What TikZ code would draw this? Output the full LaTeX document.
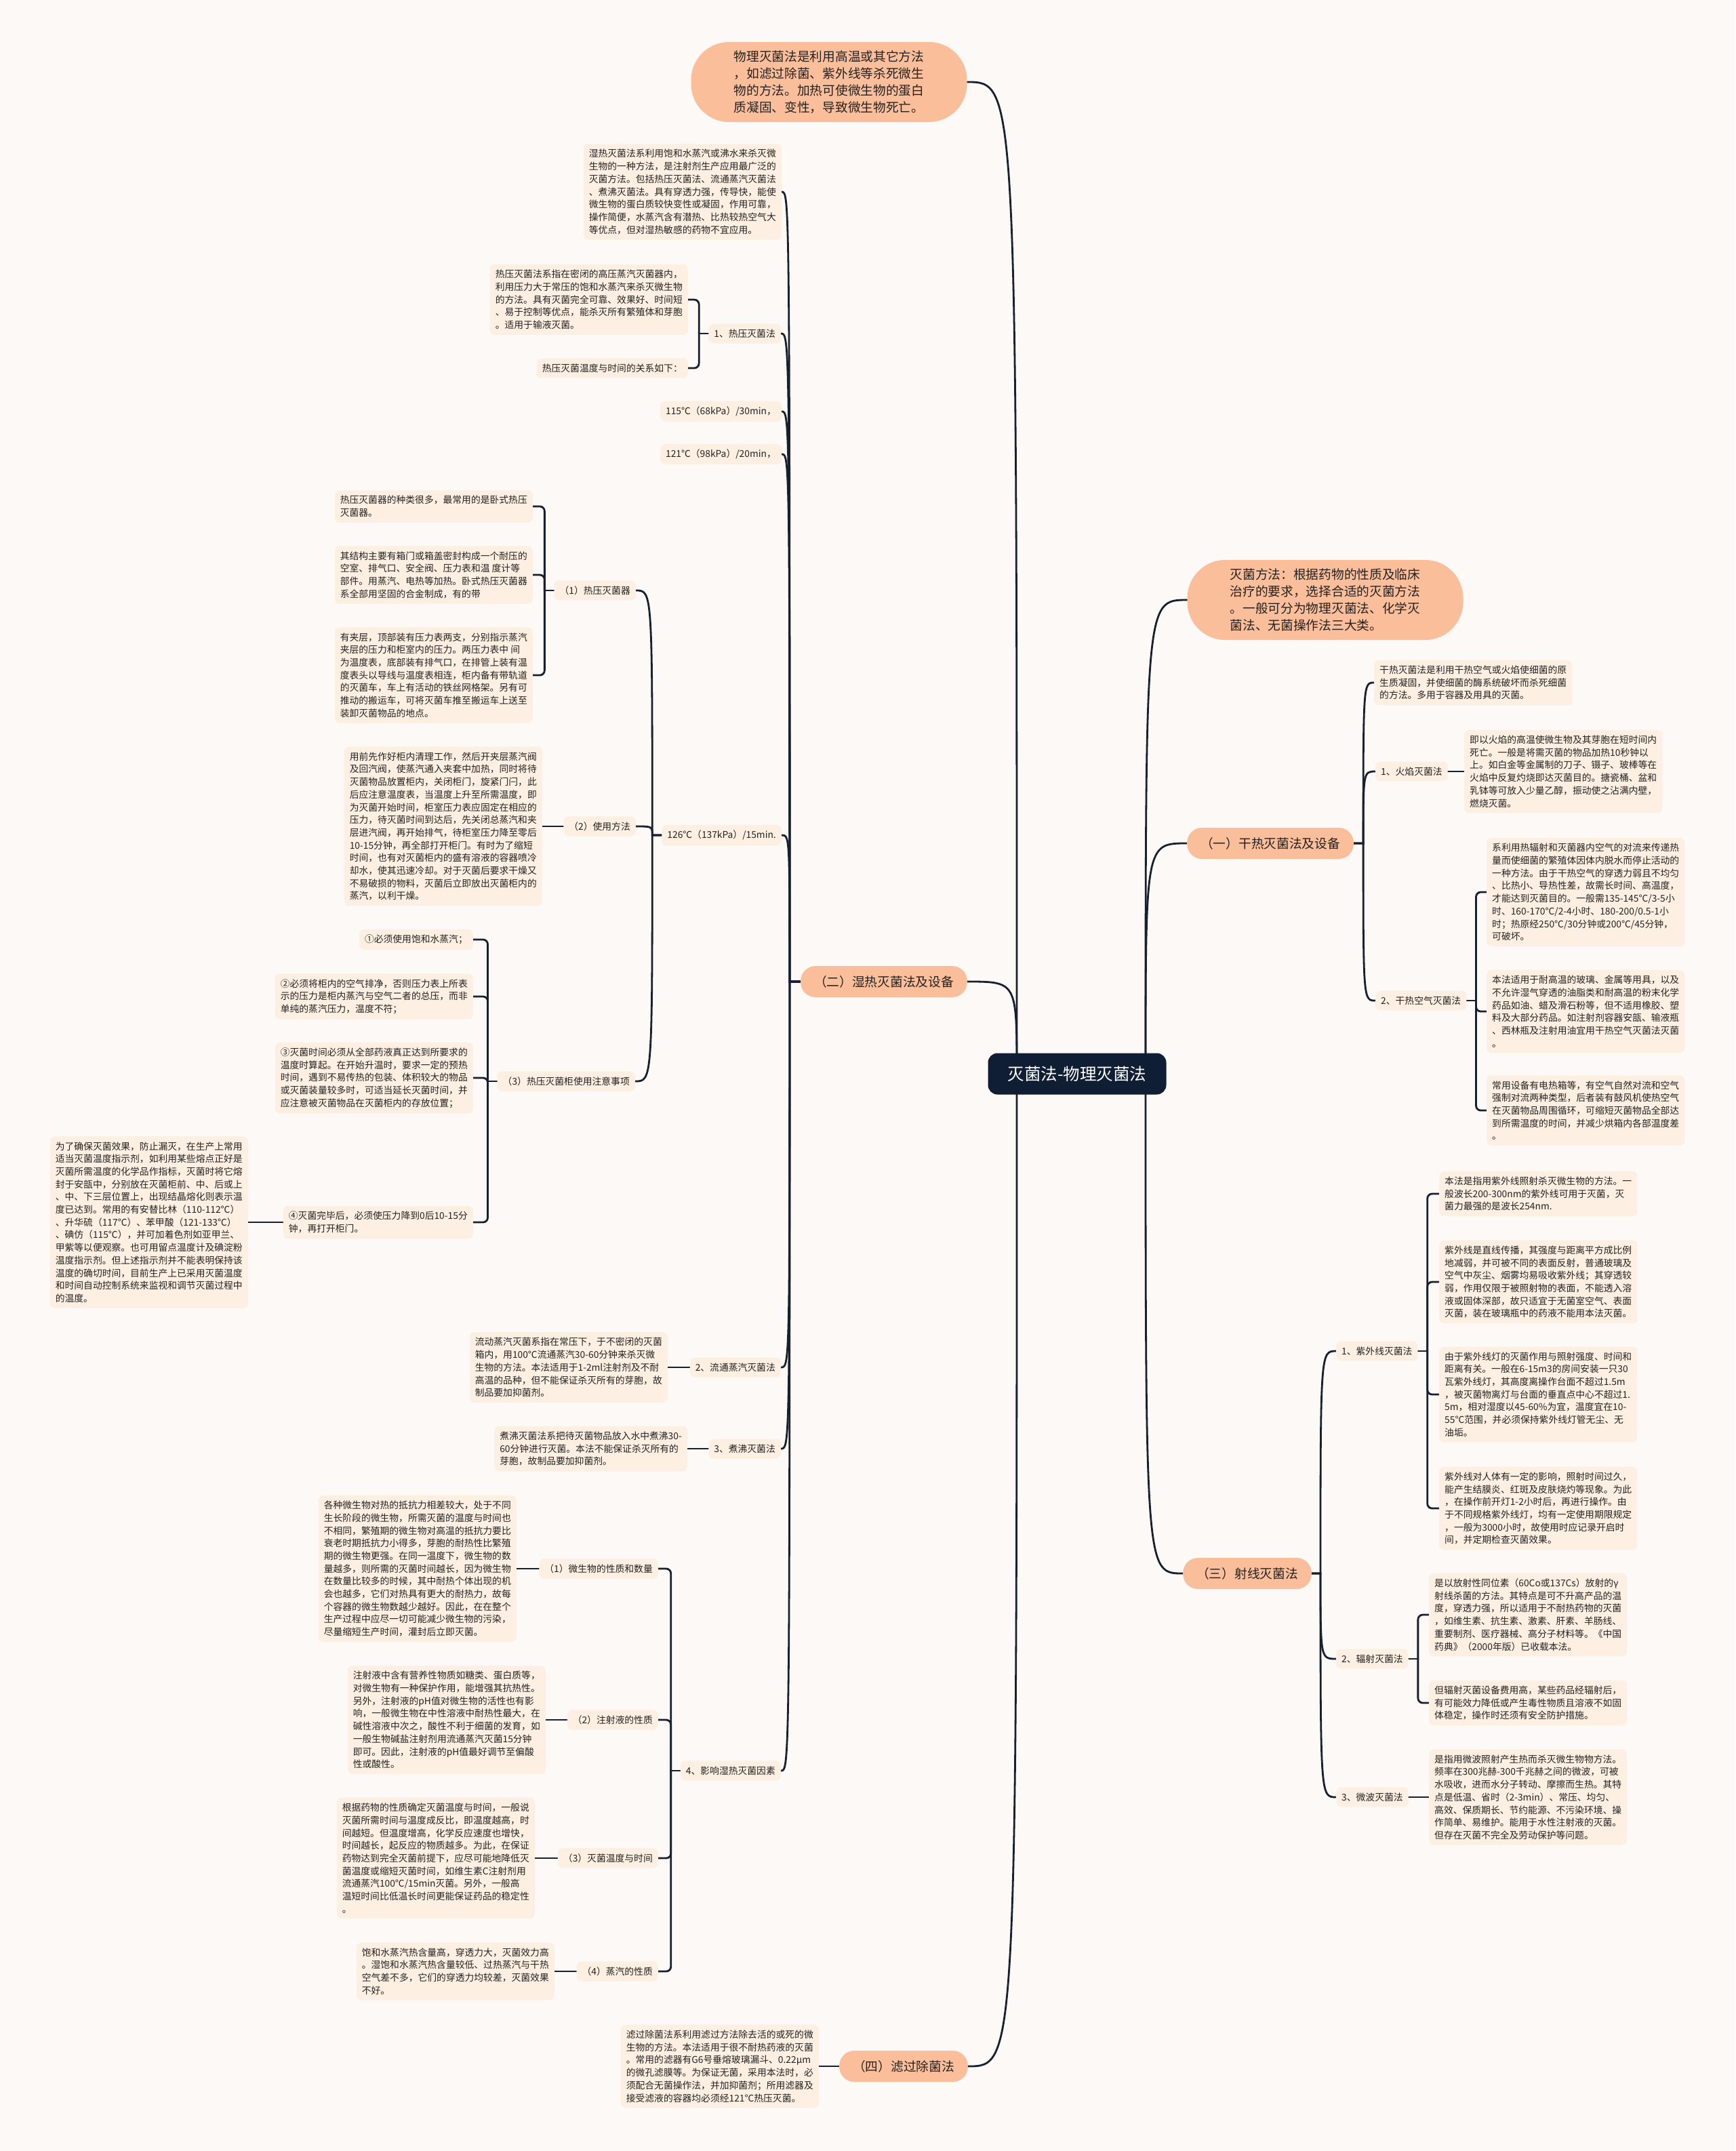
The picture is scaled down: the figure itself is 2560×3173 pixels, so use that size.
\documentclass[tikz,border=0pt]{standalone}
\usepackage{fontspec}
\setmainfont{Noto Sans CJK SC}
\usetikzlibrary{backgrounds}

\definecolor{bgcol}{HTML}{FCF9F6}
\definecolor{leafcol}{HTML}{FDEFE1}
\definecolor{pillcol}{HTML}{FBBE9B}
\definecolor{rootcol}{HTML}{0F1E33}
\definecolor{linecol}{HTML}{16202E}
\definecolor{inkcol}{HTML}{222222}

\newcommand{\leaffont}{\fontsize{13.8}{18.7}\selectfont}
\newcommand{\pillfont}{\fontsize{18.7}{25}\selectfont}
\newcommand{\rootfont}{\fontsize{24.5}{30}\selectfont}

\begin{document}
\begin{tikzpicture}[x=1pt, y=-1pt,
    leaf/.style={fill=leafcol, rounded corners=7pt, inner xsep=8pt, inner ysep=8pt, font=\leaffont, text=inkcol, align=left},
    pill/.style={fill=pillcol, rounded corners=22pt, minimum height=46pt, inner xsep=20pt, font=\pillfont, text=inkcol},
    bigpill/.style={fill=pillcol, rounded corners=56pt, minimum width=407pt, minimum height=118pt, font=\pillfont, text=inkcol, align=left},
    rootbox/.style={fill=rootcol, rounded corners=14pt, minimum width=263pt, minimum height=61pt, font=\rootfont, text=white},
    link/.style={draw=linecol, line width=2.8pt, line cap=round},
    bracket/.style={link, rounded corners=7pt}
]
    \useasboundingbox (0,0) rectangle (2560,3173);

    % Central topic
    \node[rootbox] (root) at (1589,1584) {灭菌法-物理灭菌法};

    % Main topics, left side
    \node[bigpill] (phys) at (1223,121) {物理灭菌法是利用高温或其它方法\\，如滤过除菌、紫外线等杀死微生\\物的方法。加热可使微生物的蛋白\\质凝固、变性，导致微生物死亡。};
    \node[pill, anchor=east] (moist) at (1427,1448) {（二）湿热灭菌法及设备};
    \node[pill, anchor=east] (filt) at (1428,3048) {（四）滤过除菌法};

    % Main topics, right side
    \node[bigpill] (method) at (1955,885) {灭菌方法：根据药物的性质及临床\\治疗的要求，选择合适的灭菌方法\\。一般可分为物理灭菌法、化学灭\\菌法、无菌操作法三大类。};
    \node[pill, anchor=west] (dry) at (1751,1244) {（一）干热灭菌法及设备};
    \node[pill, anchor=west] (ray) at (1745,2321) {（三）射线灭菌法};

    % Moist heat branch
    \node[leaf, anchor=east] (moistdef) at (1153,283) {湿热灭菌法系利用饱和水蒸汽或沸水来杀灭微\\生物的一种方法，是注射剂生产应用最广泛的\\灭菌方法。包括热压灭菌法、流通蒸汽灭菌法\\、煮沸灭菌法。具有穿透力强，传导快，能使\\微生物的蛋白质较快变性或凝固，作用可靠，\\操作简便，水蒸汽含有潜热、比热较热空气大\\等优点，但对湿热敏感的药物不宜应用。};
    \node[leaf, anchor=east] (autoc) at (1152,492) {1、热压灭菌法};
    \node[leaf, anchor=east] (autocdef) at (1015,442) {热压灭菌法系指在密闭的高压蒸汽灭菌器内，\\利用压力大于常压的饱和水蒸汽来杀灭微生物\\的方法。具有灭菌完全可靠、效果好、时间短\\、易于控制等优点，能杀灭所有繁殖体和芽胞\\。适用于输液灭菌。};
    \node[leaf, anchor=east] (autocrel) at (1015,543) {热压灭菌温度与时间的关系如下：};
    \node[leaf, anchor=east] (t115) at (1153,607) {115℃（68kPa）/30min，};
    \node[leaf, anchor=east] (t121) at (1153,670) {121℃（98kPa）/20min，};
    \node[leaf, anchor=east] (t126) at (1153,1232) {126℃（137kPa）/15min.};

    \node[leaf, anchor=east] (sterilizer) at (938,871) {（1）热压灭菌器};
    \node[leaf, anchor=east] (kind) at (786,747) {热压灭菌器的种类很多，最常用的是卧式热压\\灭菌器。};
    \node[leaf, anchor=east] (struct) at (786,848) {其结构主要有箱门或箱盖密封构成一个耐压的\\空室、排气口、安全阀、压力表和温 度计等\\部件。用蒸汽、电热等加热。卧式热压灭菌器\\系全部用坚固的合金制成，有的带};
    \node[leaf, anchor=east] (jacket) at (786,996) {有夹层，顶部装有压力表两支，分别指示蒸汽\\夹层的压力和柜室内的压力。两压力表中 间\\为温度表，底部装有排气口，在排管上装有温\\度表头以导线与温度表相连，柜内备有带轨道\\的灭菌车，车上有活动的铁丝网格架。另有可\\推动的搬运车，可将灭菌车推至搬运车上送至\\装卸灭菌物品的地点。};

    \node[leaf, anchor=east] (usage) at (938,1219) {（2）使用方法};
    \node[leaf, anchor=east] (usagetxt) at (800,1219) {用前先作好柜内清理工作，然后开夹层蒸汽阀\\及回汽阀，使蒸汽通入夹套中加热，同时将待\\灭菌物品放置柜内，关闭柜门，旋紧门闩，此\\后应注意温度表，当温度上升至所需温度，即\\为灭菌开始时间，柜室压力表应固定在相应的\\压力，待灭菌时间到达后，先关闭总蒸汽和夹\\层进汽阀，再开始排气，待柜室压力降至零后\\10-15分钟，再全部打开柜门。有时为了缩短\\时间，也有对灭菌柜内的盛有溶液的容器喷冷\\却水，使其迅速冷却。对于灭菌后要求干燥又\\不易破损的物料，灭菌后立即放出灭菌柜内的\\蒸汽，以利干燥。};

    \node[leaf, anchor=east] (notes) at (937,1595) {（3）热压灭菌柜使用注意事项};
    \node[leaf, anchor=east] (note1) at (698,1386) {①必须使用饱和水蒸汽；};
    \node[leaf, anchor=east] (note2) at (698,1470) {②必须将柜内的空气排净，否则压力表上所表\\示的压力是柜内蒸汽与空气二者的总压，而非\\单纯的蒸汽压力，温度不符；};
    \node[leaf, anchor=east] (note3) at (698,1590) {③灭菌时间必须从全部药液真正达到所要求的\\温度时算起。在开始升温时，要求一定的预热\\时间，遇到不易传热的包装、体积较大的物品\\或灭菌装量较多时，可适当延长灭菌时间，并\\应注意被灭菌物品在灭菌柜内的存放位置；};
    \node[leaf, anchor=east] (note4) at (698,1803) {④灭菌完毕后，必须使压力降到0后10-15分\\钟，再打开柜门。};
    \node[leaf, anchor=east] (note4txt) at (366,1803) {为了确保灭菌效果，防止漏灭，在生产上常用\\适当灭菌温度指示剂，如利用某些熔点正好是\\灭菌所需温度的化学品作指标，灭菌时将它熔\\封于安瓿中，分别放在灭菌柜前、中、后或上\\、中、下三层位置上，出现结晶熔化则表示温\\度已达到。常用的有安替比林（110-112℃）\\、升华硫（117℃）、苯甲酸（121-133℃）\\、碘仿（115℃），并可加着色剂如亚甲兰、\\甲紫等以便观察。也可用留点温度计及碘淀粉\\温度指示剂。但上述指示剂并不能表明保持该\\温度的确切时间，目前生产上已采用灭菌温度\\和时间自动控制系统来监视和调节灭菌过程中\\的温度。};

    \node[leaf, anchor=east] (flow) at (1152,2017) {2、流通蒸汽灭菌法};
    \node[leaf, anchor=east] (flowtxt) at (985,2017) {流动蒸汽灭菌系指在常压下，于不密闭的灭菌\\箱内，用100℃流通蒸汽30-60分钟来杀灭微\\生物的方法。本法适用于1-2ml注射剂及不耐\\高温的品种，但不能保证杀灭所有的芽胞，故\\制品要加抑菌剂。};
    \node[leaf, anchor=east] (boil) at (1152,2137) {3、煮沸灭菌法};
    \node[leaf, anchor=east] (boiltxt) at (1014,2137) {煮沸灭菌法系把待灭菌物品放入水中煮沸30-\\60分钟进行灭菌。本法不能保证杀灭所有的\\芽胞，故制品要加抑菌剂。};

    \node[leaf, anchor=east] (factor) at (1152,2612) {4、影响湿热灭菌因素};
    \node[leaf, anchor=east] (fmicro) at (971,2314) {（1）微生物的性质和数量};
    \node[leaf, anchor=east] (fmicrotxt) at (762,2314) {各种微生物对热的抵抗力相差较大，处于不同\\生长阶段的微生物，所需灭菌的温度与时间也\\不相同，繁殖期的微生物对高温的抵抗力要比\\衰老时期抵抗力小得多，芽胞的耐热性比繁殖\\期的微生物更强。在同一温度下，微生物的数\\量越多，则所需的灭菌时间越长，因为微生物\\在数量比较多的时候，其中耐热个体出现的机\\会也越多，它们对热具有更大的耐热力，故每\\个容器的微生物数越少越好。因此，在在整个\\生产过程中应尽一切可能减少微生物的污染，\\尽量缩短生产时间，灌封后立即灭菌。};
    \node[leaf, anchor=east] (finj) at (971,2537) {（2）注射液的性质};
    \node[leaf, anchor=east] (finjtxt) at (805,2537) {注射液中含有营养性物质如糖类、蛋白质等，\\对微生物有一种保护作用，能增强其抗热性。\\另外，注射液的pH值对微生物的活性也有影\\响，一般微生物在中性溶液中耐热性最大，在\\碱性溶液中次之，酸性不利于细菌的发育，如\\一般生物碱盐注射剂用流通蒸汽灭菌15分钟\\即可。因此，注射液的pH值最好调节至偏酸\\性或酸性。};
    \node[leaf, anchor=east] (ftemp) at (971,2741) {（3）灭菌温度与时间};
    \node[leaf, anchor=east] (ftemptxt) at (789,2741) {根据药物的性质确定灭菌温度与时间，一般说\\灭菌所需时间与温度成反比，即温度越高，时\\间越短。但温度增高，化学反应速度也增快，\\时间越长，起反应的物质越多。为此，在保证\\药物达到完全灭菌前提下，应尽可能地降低灭\\菌温度或缩短灭菌时间，如维生素C注射剂用\\流通蒸汽100℃/15min灭菌。另外，一般高\\温短时间比低温长时间更能保证药品的稳定性\\。};
    \node[leaf, anchor=east] (fsteam) at (971,2908) {（4）蒸汽的性质};
    \node[leaf, anchor=east] (fsteamtxt) at (818,2908) {饱和水蒸汽热含量高，穿透力大，灭菌效力高\\。湿饱和水蒸汽热含量较低、过热蒸汽与干热\\空气差不多，它们的穿透力均较差，灭菌效果\\不好。};

    % Filtration branch
    \node[leaf, anchor=east] (filttxt) at (1208,3048) {滤过除菌法系利用滤过方法除去活的或死的微\\生物的方法。本法适用于很不耐热药液的灭菌\\。常用的滤器有G6号垂熔玻璃漏斗、0.22μm\\的微孔滤膜等。为保证无菌，采用本法时，必\\须配合无菌操作法，并加抑菌剂；所用滤器及\\接受滤液的容器均必须经121℃热压灭菌。};

    % Dry heat branch
    \node[leaf, anchor=west] (drydef) at (2027,1007) {干热灭菌法是利用干热空气或火焰使细菌的原\\生质凝固，并使细菌的酶系统破坏而杀死细菌\\的方法。多用于容器及用具的灭菌。};
    \node[leaf, anchor=west] (flame) at (2029,1138) {1、火焰灭菌法};
    \node[leaf, anchor=west] (flametxt) at (2160,1138) {即以火焰的高温使微生物及其芽胞在短时间内\\死亡。一般是将需灭菌的物品加热10秒钟以\\上。如白金等金属制的刀子、镊子、玻棒等在\\火焰中反复灼烧即达灭菌目的。搪瓷桶、盆和\\乳钵等可放入少量乙醇，振动使之沾满内壁，\\燃烧灭菌。};
    \node[leaf, anchor=west] (hotair) at (2029,1476) {2、干热空气灭菌法};
    \node[leaf, anchor=west] (hotair1) at (2193,1316) {系利用热辐射和灭菌器内空气的对流来传递热\\量而使细菌的繁殖体因体内脱水而停止活动的\\一种方法。由于干热空气的穿透力弱且不均匀\\、比热小、导热性差，故需长时间、高温度，\\才能达到灭菌目的。一般需135-145℃/3-5小\\时、160-170℃/2-4小时、180-200/0.5-1小\\时；热原经250℃/30分钟或200℃/45分钟，\\可破坏。};
    \node[leaf, anchor=west] (hotair2) at (2193,1492) {本法适用于耐高温的玻璃、金属等用具，以及\\不允许湿气穿透的油脂类和耐高温的粉末化学\\药品如油、蜡及滑石粉等，但不适用橡胶、塑\\料及大部分药品。如注射剂容器安瓿、输液瓶\\、西林瓶及注射用油宜用干热空气灭菌法灭菌\\。};
    \node[leaf, anchor=west] (hotair3) at (2193,1638) {常用设备有电热箱等，有空气自然对流和空气\\强制对流两种类型，后者装有鼓风机使热空气\\在灭菌物品周围循环，可缩短灭菌物品全部达\\到所需温度的时间，并减少烘箱内各部温度差\\。};

    % Radiation branch
    \node[leaf, anchor=west] (uv) at (1971,1993) {1、紫外线灭菌法};
    \node[leaf, anchor=west] (uv1) at (2123,1761) {本法是指用紫外线照射杀灭微生物的方法。一\\般波长200-300nm的紫外线可用于灭菌，灭\\菌力最强的是波长254nm.};
    \node[leaf, anchor=west] (uv2) at (2123,1891) {紫外线是直线传播，其强度与距离平方成比例\\地减弱，并可被不同的表面反射，普通玻璃及\\空气中灰尘、烟雾均易吸收紫外线；其穿透较\\弱，作用仅限于被照射物的表面，不能透入溶\\液或固体深部，故只适宜于无菌室空气、表面\\灭菌，装在玻璃瓶中的药液不能用本法灭菌。};
    \node[leaf, anchor=west] (uv3) at (2123,2057) {由于紫外线灯的灭菌作用与照射强度、时间和\\距离有关。一般在6-15m3的房间安装一只30\\瓦紫外线灯，其高度离操作台面不超过1.5m\\，被灭菌物离灯与台面的垂直点中心不超过1.\\5m，相对湿度以45-60\%为宜，温度宜在10-\\55℃范围，并必须保持紫外线灯管无尘、无\\油垢。};
    \node[leaf, anchor=west] (uv4) at (2123,2225) {紫外线对人体有一定的影响，照射时间过久，\\能产生结膜炎、红斑及皮肤烧灼等现象。为此\\，在操作前开灯1-2小时后，再进行操作。由\\于不同规格紫外线灯，均有一定使用期限规定\\，一般为3000小时，故使用时应记录开启时\\间，并定期检查灭菌效果。};
    \node[leaf, anchor=west] (irr) at (1971,2447) {2、辐射灭菌法};
    \node[leaf, anchor=west] (irr1) at (2108,2382) {是以放射性同位素（60Co或137Cs）放射的γ\\射线杀菌的方法。其特点是可不升高产品的温\\度，穿透力强，所以适用于不耐热药物的灭菌\\，如维生素、抗生素、激素、肝素、羊肠线、\\重要制剂、医疗器械、高分子材料等。《中国\\药典》（2000年版）已收载本法。};
    \node[leaf, anchor=west] (irr2) at (2108,2512) {但辐射灭菌设备费用高，某些药品经辐射后，\\有可能效力降低或产生毒性物质且溶液不如固\\体稳定，操作时还须有安全防护措施。};
    \node[leaf, anchor=west] (micro) at (1971,2651) {3、微波灭菌法};
    \node[leaf, anchor=west] (microtxt) at (2108,2651) {是指用微波照射产生热而杀灭微生物物方法。\\频率在300兆赫-300千兆赫之间的微波，可被\\水吸收，进而水分子转动、摩擦而生热。其特\\点是低温、省时（2-3min）、常压、均匀、\\高效、保质期长、节约能源、不污染环境、操\\作简单、易维护。能用于水性注射液的灭菌。\\但存在灭菌不完全及劳动保护等问题。};

    % Connectors, kept behind the boxes
    \begin{scope}[on background layer]
        \fill[bgcol] (0,0) rectangle (2560,3173);

        % root to main topics
        \coordinate (rootl) at (1500,1584);
        \coordinate (rootr) at (1690,1584);
        \foreach \kid in {phys,moist,filt}
            \draw[link] (rootl) .. controls (rootl |- \kid.east) .. (\kid.east);
        \foreach \kid in {method,dry,ray}
            \draw[link] (rootr) .. controls (rootr |- \kid.west) .. (\kid.west);

        % moist heat
        \coordinate (moistj) at ([xshift=-16pt]moist.west);
        \foreach \kid in {moistdef,autoc,t115,t121,t126,flow,boil,factor}
            \draw[link] (moist.west) -- (moistj) .. controls (moistj |- \kid.east) .. (\kid.east);
        \coordinate (autocj) at ([xshift=-14pt]autoc.west);
        \draw[link] (autoc.west) -- (autocj);
        \foreach \kid in {autocdef,autocrel}
            \draw[bracket] (autocj) |- (\kid.east);
        \coordinate (t126j) at ([xshift=-14pt]t126.west);
        \foreach \kid in {sterilizer,usage,notes}
            \draw[link] (t126.west) -- (t126j) .. controls (t126j |- \kid.east) .. (\kid.east);
        \coordinate (sterj) at ([xshift=-14pt]sterilizer.west);
        \draw[link] (sterilizer.west) -- (sterj);
        \foreach \kid in {kind,struct,jacket}
            \draw[bracket] (sterj) |- (\kid.east);
        \draw[link] (usage.west) -- (usagetxt.east);
        \coordinate (notesj) at ([xshift=-14pt]notes.west);
        \draw[link] (notes.west) -- (notesj);
        \foreach \kid in {note1,note2,note3,note4}
            \draw[bracket] (notesj) |- (\kid.east);
        \draw[link] (note4.west) -- (note4txt.east);
        \draw[link] (flow.west) -- (flowtxt.east);
        \draw[link] (boil.west) -- (boiltxt.east);
        \coordinate (factorj) at ([xshift=-14pt]factor.west);
        \draw[link] (factor.west) -- (factorj);
        \foreach \kid in {fmicro,finj,ftemp,fsteam}
            \draw[bracket] (factorj) |- (\kid.east);
        \draw[link] (fmicro.west) -- (fmicrotxt.east);
        \draw[link] (finj.west) -- (finjtxt.east);
        \draw[link] (ftemp.west) -- (ftemptxt.east);
        \draw[link] (fsteam.west) -- (fsteamtxt.east);

        % filtration
        \draw[link] (filt.west) -- (filttxt.east);

        % dry heat
        \coordinate (dryj) at ([xshift=14pt]dry.east);
        \foreach \kid in {drydef,flame,hotair}
            \draw[link] (dry.east) -- (dryj) .. controls (dryj |- \kid.west) .. (\kid.west);
        \draw[link] (flame.east) -- (flametxt.west);
        \coordinate (hotairj) at ([xshift=14pt]hotair.east);
        \draw[link] (hotair.east) -- (hotairj);
        \foreach \kid in {hotair1,hotair2,hotair3}
            \draw[bracket] (hotairj) |- (\kid.west);

        % radiation
        \coordinate (rayj) at ([xshift=13pt]ray.east);
        \foreach \kid in {uv,irr,micro}
            \draw[link] (ray.east) -- (rayj) .. controls (rayj |- \kid.west) .. (\kid.west);
        \coordinate (uvj) at ([xshift=14pt]uv.east);
        \draw[link] (uv.east) -- (uvj);
        \foreach \kid in {uv1,uv2,uv3,uv4}
            \draw[bracket] (uvj) |- (\kid.west);
        \coordinate (irrj) at ([xshift=14pt]irr.east);
        \draw[link] (irr.east) -- (irrj);
        \foreach \kid in {irr1,irr2}
            \draw[bracket] (irrj) |- (\kid.west);
        \draw[link] (micro.east) -- (microtxt.west);
    \end{scope}

\end{tikzpicture}
\end{document}
